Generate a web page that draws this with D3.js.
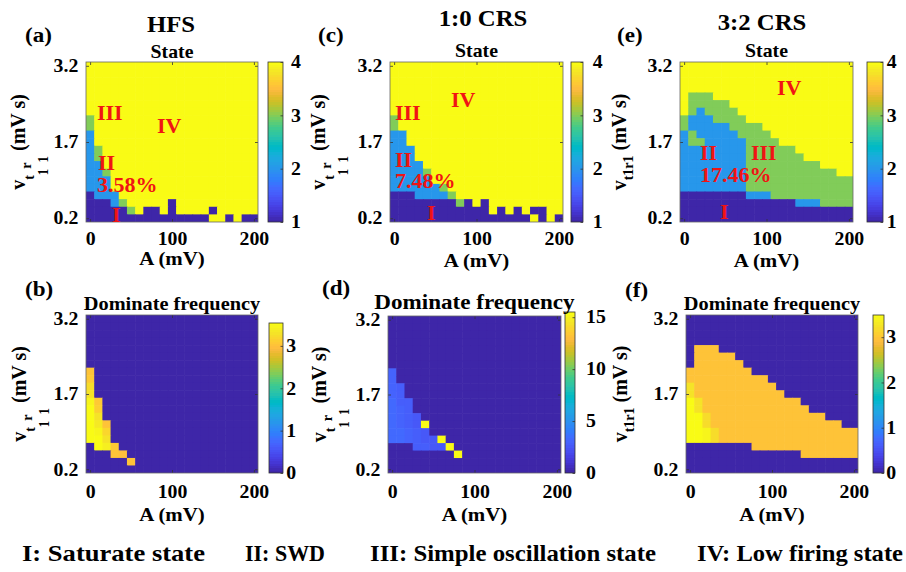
<!DOCTYPE html>
<html><head><meta charset="utf-8">
<script src="https://cdn.jsdelivr.net/npm/d3@7"></script>
<style>
body{margin:0;background:#fff}
svg{display:block}
text{font-family:"Liberation Serif","Times New Roman",serif;font-weight:bold;white-space:pre}
</style>
</head><body>
<svg id="chart" width="906" height="572"></svg>
<script>
// ---------------- DATA ----------------
const ampA = [0,10,20,30,40,50,60,70,80,90,100,110,120,130,140,150,160,170,180,190,200];
const velV = [0.2,0.35,0.5,0.65,0.8,0.95,1.1,1.25,1.4,1.55,1.7,1.85,2.0,2.15,2.3,2.45,2.6,2.75,2.9,3.05,3.2];
const xTicks = [0,100,200];
const yTicks = [0.2,1.7,3.2];
const stateTicks = [1,2,3,4];
const freqTicksHFS = [0,1,2,3];
const freqTicksCRS10 = [0,5,10,15];
const freqTicksCRS32 = [0,1,2,3];
const panelTitles = ["HFS","1:0 CRS","3:2 CRS"];
const legendItems = ["I: Saturate state","II: SWD","III: Simple oscillation state","IV: Low firing state"];

// state grids: rows from v=3.2 (top) down to v=0.2 (bottom); columns A=0..200
const stateHFS = [
"444444444444444444444",
"444444444444444444444",
"444444444444444444444",
"444444444444444444444",
"444444444444444444444",
"444444444444444444444",
"444444444444444444444",
"344444444444444444444",
"344444444444444444444",
"244444444444444444444",
"244444444444444444444",
"234444444444444444444",
"234444444444444444444",
"224444444444444444444",
"223444444444444444444",
"222444444444444444444",
"222444444444444444444",
"122244444444444444444",
"111234444414444444444",
"111113411414444144444",
"111111111111111441411"];
const stateCRS10 = [
"444444444444444444444",
"444444444444444444444",
"444444444444444444444",
"444444444444444444444",
"444444444444444444444",
"444444444444444444444",
"444444444444444444444",
"344444444444444444444",
"344444444444444444444",
"224444444444444444444",
"224444444444444444444",
"222444444444444444444",
"222444444444444444444",
"222244444444444444444",
"222234444444444444444",
"222224444444444444444",
"222222344444444444444",
"111222234444444444444",
"111111113141444444444",
"111111111111414141144",
"111111111111111114141"];
const stateCRS32 = [
"444444444444444444444",
"444444444444444444444",
"444444444444444444444",
"444444444444444444444",
"433344444444444444444",
"433333444444444444444",
"432333344444444444444",
"322233334444444444444",
"322222333344444444444",
"232222233334444444444",
"233222223333444444444",
"222222223333334444444",
"222222223333333444444",
"222222223333333334444",
"222222223333333333344",
"222222223333333333333",
"222222223333333333333",
"111111112223333333333",
"111111111111112223333",
"111111111111111111111",
"111111111111111111111"];

// dominant frequency grids (same orientation)
const freqHFS = [
[0,0,0,0,0,0,0,0,0,0,0,0,0,0,0,0,0,0,0,0,0],
[0,0,0,0,0,0,0,0,0,0,0,0,0,0,0,0,0,0,0,0,0],
[0,0,0,0,0,0,0,0,0,0,0,0,0,0,0,0,0,0,0,0,0],
[0,0,0,0,0,0,0,0,0,0,0,0,0,0,0,0,0,0,0,0,0],
[0,0,0,0,0,0,0,0,0,0,0,0,0,0,0,0,0,0,0,0,0],
[0,0,0,0,0,0,0,0,0,0,0,0,0,0,0,0,0,0,0,0,0],
[0,0,0,0,0,0,0,0,0,0,0,0,0,0,0,0,0,0,0,0,0],
[3.0,0,0,0,0,0,0,0,0,0,0,0,0,0,0,0,0,0,0,0,0],
[3.05,0,0,0,0,0,0,0,0,0,0,0,0,0,0,0,0,0,0,0,0],
[3.25,0,0,0,0,0,0,0,0,0,0,0,0,0,0,0,0,0,0,0,0],
[3.3,0,0,0,0,0,0,0,0,0,0,0,0,0,0,0,0,0,0,0,0],
[3.45,3.05,0,0,0,0,0,0,0,0,0,0,0,0,0,0,0,0,0,0,0],
[3.5,3.1,0,0,0,0,0,0,0,0,0,0,0,0,0,0,0,0,0,0,0],
[3.54,3.3,0,0,0,0,0,0,0,0,0,0,0,0,0,0,0,0,0,0,0],
[3.54,3.35,3.0,0,0,0,0,0,0,0,0,0,0,0,0,0,0,0,0,0,0],
[3.54,3.45,3.2,0,0,0,0,0,0,0,0,0,0,0,0,0,0,0,0,0,0],
[3.54,3.5,3.3,0,0,0,0,0,0,0,0,0,0,0,0,0,0,0,0,0,0],
[0,3.5,3.4,3.05,0,0,0,0,0,0,0,0,0,0,0,0,0,0,0,0,0],
[0,0,0,3.0,2.95,0,0,0,0,0,0,0,0,0,0,0,0,0,0,0,0],
[0,0,0,0,0,3.0,0,0,0,0,0,0,0,0,0,0,0,0,0,0,0],
[0,0,0,0,0,0,0,0,0,0,0,0,0,0,0,0,0,0,0,0,0]];
const freqCRS10 = [
[0,0,0,0,0,0,0,0,0,0,0,0,0,0,0,0,0,0,0,0,0],
[0,0,0,0,0,0,0,0,0,0,0,0,0,0,0,0,0,0,0,0,0],
[0,0,0,0,0,0,0,0,0,0,0,0,0,0,0,0,0,0,0,0,0],
[0,0,0,0,0,0,0,0,0,0,0,0,0,0,0,0,0,0,0,0,0],
[0,0,0,0,0,0,0,0,0,0,0,0,0,0,0,0,0,0,0,0,0],
[0,0,0,0,0,0,0,0,0,0,0,0,0,0,0,0,0,0,0,0,0],
[0,0,0,0,0,0,0,0,0,0,0,0,0,0,0,0,0,0,0,0,0],
[3.0,0,0,0,0,0,0,0,0,0,0,0,0,0,0,0,0,0,0,0,0],
[3.0,0,0,0,0,0,0,0,0,0,0,0,0,0,0,0,0,0,0,0,0],
[3.1,2.8,0,0,0,0,0,0,0,0,0,0,0,0,0,0,0,0,0,0,0],
[3.1,2.8,0,0,0,0,0,0,0,0,0,0,0,0,0,0,0,0,0,0,0],
[3.2,2.9,2.7,0,0,0,0,0,0,0,0,0,0,0,0,0,0,0,0,0,0],
[3.2,3.0,2.7,0,0,0,0,0,0,0,0,0,0,0,0,0,0,0,0,0,0],
[3.3,3.1,2.8,2.6,0,0,0,0,0,0,0,0,0,0,0,0,0,0,0,0,0],
[3.3,3.1,2.9,2.6,15.5,0,0,0,0,0,0,0,0,0,0,0,0,0,0,0,0],
[3.3,3.2,3.0,2.7,2.5,0,0,0,0,0,0,0,0,0,0,0,0,0,0,0,0],
[3.3,3.2,3.0,2.8,2.6,2.5,15.5,0,0,0,0,0,0,0,0,0,0,0,0,0,0],
[0,0,0,2.8,2.7,2.6,2.5,15.5,0,0,0,0,0,0,0,0,0,0,0,0,0],
[0,0,0,0,0,0,0,0,15.5,0,0,0,0,0,0,0,0,0,0,0,0],
[0,0,0,0,0,0,0,0,0,0,0,0,0,0,0,0,0,0,0,0,0],
[0,0,0,0,0,0,0,0,0,0,0,0,0,0,0,0,0,0,0,0,0]];
const freqCRS32 = [
[0,0,0,0,0,0,0,0,0,0,0,0,0,0,0,0,0,0,0,0,0],
[0,0,0,0,0,0,0,0,0,0,0,0,0,0,0,0,0,0,0,0,0],
[0,0,0,0,0,0,0,0,0,0,0,0,0,0,0,0,0,0,0,0,0],
[0,0,0,0,0,0,0,0,0,0,0,0,0,0,0,0,0,0,0,0,0],
[0,2.95,2.95,2.95,0,0,0,0,0,0,0,0,0,0,0,0,0,0,0,0,0],
[0,2.95,2.95,2.95,2.95,2.95,0,0,0,0,0,0,0,0,0,0,0,0,0,0,0],
[0,2.95,2.95,2.95,2.95,2.95,2.95,0,0,0,0,0,0,0,0,0,0,0,0,0,0],
[2.95,2.95,2.95,2.95,2.95,2.95,2.95,2.95,0,0,0,0,0,0,0,0,0,0,0,0,0],
[2.95,2.95,2.95,2.95,2.95,2.95,2.95,2.95,2.95,2.95,0,0,0,0,0,0,0,0,0,0,0],
[3.25,2.95,2.95,2.95,2.95,2.95,2.95,2.95,2.95,2.95,2.95,0,0,0,0,0,0,0,0,0,0],
[3.25,2.95,2.95,2.95,2.95,2.95,2.95,2.95,2.95,2.95,2.95,2.95,0,0,0,0,0,0,0,0,0],
[3.49,3.25,2.95,2.95,2.95,2.95,2.95,2.95,2.95,2.95,2.95,2.95,2.95,2.95,0,0,0,0,0,0,0],
[3.49,3.25,2.95,2.95,2.95,2.95,2.95,2.95,2.95,2.95,2.95,2.95,2.95,2.95,2.95,0,0,0,0,0,0],
[3.49,3.45,3.2,2.95,2.95,2.95,2.95,2.95,2.95,2.95,2.95,2.95,2.95,2.95,2.95,2.95,2.95,0,0,0,0],
[3.49,3.45,3.2,2.95,2.95,2.95,2.95,2.95,2.95,2.95,2.95,2.95,2.95,2.95,2.95,2.95,2.95,2.95,2.95,0,0],
[3.49,3.45,3.4,3.2,2.95,2.95,2.95,2.95,2.95,2.95,2.95,2.95,2.95,2.95,2.95,2.95,2.95,2.95,2.95,2.95,2.95],
[3.49,3.45,3.4,3.2,2.95,2.95,2.95,2.95,2.95,2.95,2.95,2.95,2.95,2.95,2.95,2.95,2.95,2.95,2.95,2.95,2.95],
[0,0,0,0,0,0,0,0,2.95,2.95,2.95,2.95,2.95,2.95,2.95,2.95,2.95,2.95,2.95,2.95,2.95],
[0,0,0,0,0,0,0,0,0,0,0,0,0,0,2.95,2.95,2.95,2.95,2.95,2.95,2.95],
[0,0,0,0,0,0,0,0,0,0,0,0,0,0,0,0,0,0,0,0,0],
[0,0,0,0,0,0,0,0,0,0,0,0,0,0,0,0,0,0,0,0,0]];

// colour limits of the colour bars
const climState = [1,4];
const climHFS = [0,3.54];
const climCRS10 = [0,15.5];
const climCRS32 = [0,3.49];

// in-plot region annotations
const labelsHFS = [["III",97,120],["IV",157,133],["II",98,170],["3.58%",97,192],["I",112,222]];
const labelsCRS10 = [["IV",451,107],["III",395,120],["II",395,167],["7.48%",395,188],["I",427,220]];
const labelsCRS32 = [["IV",777,95],["II",700,160],["III",751,160],["17.46%",700,182],["I",720,219]];

// MATLAB parula colormap (64)
const parula = [
[0.2422,0.1504,0.6603],[0.2504,0.1650,0.7076],[0.2578,0.1818,0.7511],[0.2647,0.1978,0.7952],[0.2706,0.2147,0.8364],[0.2751,0.2342,0.8710],[0.2783,0.2559,0.8991],[0.2803,0.2782,0.9221],[0.2813,0.3006,0.9414],[0.2810,0.3228,0.9579],
[0.2795,0.3447,0.9717],[0.2760,0.3667,0.9829],[0.2699,0.3892,0.9906],[0.2602,0.4123,0.9952],[0.2440,0.4358,0.9988],[0.2206,0.4603,0.9973],[0.1963,0.4847,0.9892],[0.1834,0.5074,0.9798],[0.1786,0.5289,0.9682],[0.1764,0.5499,0.9520],
[0.1687,0.5703,0.9359],[0.1540,0.5902,0.9218],[0.1460,0.6091,0.9079],[0.1380,0.6276,0.8973],[0.1248,0.6459,0.8883],[0.1113,0.6635,0.8763],[0.0952,0.6798,0.8598],[0.0689,0.6948,0.8394],[0.0297,0.7082,0.8163],[0.0036,0.7203,0.7917],
[0.0067,0.7312,0.7660],[0.0433,0.7411,0.7394],[0.0964,0.7500,0.7120],[0.1408,0.7584,0.6842],[0.1717,0.7670,0.6554],[0.1938,0.7758,0.6251],[0.2161,0.7843,0.5923],[0.2470,0.7918,0.5567],[0.2906,0.7973,0.5188],[0.3406,0.8008,0.4789],
[0.3909,0.8029,0.4354],[0.4456,0.8024,0.3909],[0.5044,0.7993,0.3480],[0.5616,0.7942,0.3045],[0.6174,0.7876,0.2612],[0.6720,0.7793,0.2227],[0.7242,0.7698,0.1910],[0.7738,0.7598,0.1646],[0.8203,0.7498,0.1535],[0.8634,0.7406,0.1596],
[0.9035,0.7330,0.1774],[0.9393,0.7288,0.2100],[0.9728,0.7298,0.2394],[0.9956,0.7434,0.2371],[0.9970,0.7659,0.2199],[0.9952,0.7893,0.2028],[0.9892,0.8136,0.1885],[0.9786,0.8386,0.1766],[0.9676,0.8639,0.1643],[0.9610,0.8890,0.1537],
[0.9597,0.9135,0.1423],[0.9628,0.9373,0.1265],[0.9691,0.9606,0.1064],[0.9769,0.9839,0.0805]];

// ---------------- DRAWING ----------------
const SX = 1.1; // horizontal text stretch of the figure
const svg = d3.select('#chart');
const defs = svg.append('defs');
const parulaHex = parula.map(c => d3.rgb(c[0]*255, c[1]*255, c[2]*255).formatHex());
function colorOf(v, lim){
  let i = Math.floor((v - lim[0]) / (lim[1] - lim[0]) * parula.length);
  i = Math.max(0, Math.min(parula.length - 1, i));
  return parulaHex[i];
}
function txt(g, x, y, s, size, anchor, fill){
  return g.append('text')
    .attr('transform', `translate(${x},${y}) scale(${SX},1)`)
    .attr('font-size', size).attr('text-anchor', anchor || 'start')
    .attr('fill', fill || '#000').text(s);
}

const panels = [
 {id:'a', grid: stateHFS.map(r => r.split('').map(Number)), lim: climState, ticks: stateTicks,
  L:86, R:258, T:62, B:222, cb:{L:268, R:283, T:62, B:222, pad:7.3},
  letter:'(a)', lx:25, ly:42, sub:'State', subY:57.5, subSize:18, xlabY:265, tickY:10,
  ylx:25, ysub:'double', head:[panelTitles[0],171,32], labels: labelsHFS},
 {id:'c', grid: stateCRS10.map(r => r.split('').map(Number)), lim: climState, ticks: stateTicks,
  L:390, R:563, T:62, B:222, cb:{L:571, R:583, T:62, B:222, pad:8.8},
  letter:'(c)', lx:318, ly:42, sub:'State', subY:57, subSize:18, xlabY:267, tickY:10,
  ylx:325, ysub:'double', head:[panelTitles[1],483,26], labels: labelsCRS10},
 {id:'e', grid: stateCRS32.map(r => r.split('').map(Number)), lim: climState, ticks: stateTicks,
  L:680, R:853, T:62, B:222, cb:{L:867, R:883, T:62, B:222, pad:3.4},
  letter:'(e)', lx:617, ly:42, sub:'State', subY:57, subSize:18, xlabY:267, tickY:10,
  ylx:626, ysub:'single', head:[panelTitles[2],762,30], labels: labelsCRS32},
 {id:'b', grid: freqHFS, lim: climHFS, ticks: freqTicksHFS,
  L:86, R:258, T:315, B:473, cb:{L:269, R:283, T:323, B:473, pad:3},
  letter:'(b)', lx:25, ly:296, sub:'Dominate frequency', subY:310, subSize:18.5, xlabY:521, tickY:12,
  ylx:26, ysub:'double'},
 {id:'d', grid: freqCRS10, lim: climCRS10, ticks: freqTicksCRS10,
  L:388, R:561, T:316, B:473, cb:{L:565, R:575, T:312, B:473, pad:10},
  letter:'(d)', lx:322, ly:295, sub:'Dominate frequency', subY:309, subSize:21, xlabY:521, tickY:12,
  ylx:326, ysub:'double'},
 {id:'f', grid: freqCRS32, lim: climCRS32, ticks: freqTicksCRS32,
  L:686, R:858, T:315, B:473, cb:{L:873, R:884, T:315, B:473, pad:2},
  letter:'(f)', lx:625, ly:297, sub:'Dominate frequency', subY:310, subSize:18.5, xlabY:521, tickY:12,
  ylx:627, ysub:'single'}
];

const step = ampA[1] - ampA[0];
const vstep = velV[1] - velV[0];

function styleAxis(g, size){
  g.attr('font-size', size).attr('font-family', null);
  g.select('.domain').remove();
  g.selectAll('.tick line').attr('stroke', '#333').attr('stroke-width', 0.8);
  g.selectAll('.tick text').attr('fill', '#000').attr('transform', `scale(${SX},1)`);
}

panels.forEach(p => {
  const g = svg.append('g');
  const x = d3.scaleLinear().domain([ampA[0] - step/2, ampA[ampA.length-1] + step/2]).range([p.L, p.R]);
  const y = d3.scaleLinear().domain([velV[0] - vstep/2, velV[velV.length-1] + vstep/2]).range([p.B, p.T]);

  defs.append('clipPath').attr('id', 'clip' + p.id)
    .append('rect').attr('x', p.L).attr('y', p.T).attr('width', p.R - p.L).attr('height', p.B - p.T);

  const cells = [];
  p.grid.forEach((row, k) => {
    const vi = velV.length - 1 - k;
    row.forEach((val, i) => cells.push({a: ampA[i], v: velV[vi], val}));
  });
  g.append('g').attr('clip-path', `url(#clip${p.id})`)
    .selectAll('rect').data(cells).join('rect')
    .attr('x', d => x(d.a - step/2))
    .attr('y', d => y(d.v + vstep/2))
    .attr('width', d => x(d.a + step/2) - x(d.a - step/2) + 0.6)
    .attr('height', d => y(d.v - vstep/2) - y(d.v + vstep/2) + 0.6)
    .attr('fill', d => colorOf(d.val, p.lim));

  // axes
  const gB = g.append('g').attr('transform', `translate(0,${p.B})`)
    .call(d3.axisBottom(x).tickValues(xTicks).tickFormat(d3.format('d')).tickSizeInner(-3).tickSizeOuter(0).tickPadding(p.tickY));
  styleAxis(gB, 18);
  const gL = g.append('g').attr('transform', `translate(${p.L},0)`)
    .call(d3.axisLeft(y).tickValues(yTicks).tickFormat(d3.format('.1f')).tickSizeInner(-3).tickSizeOuter(0).tickPadding(7));
  styleAxis(gL, 18);
  const gT = g.append('g').attr('transform', `translate(0,${p.T})`)
    .call(d3.axisTop(x).tickValues(xTicks).tickSizeInner(-3).tickSizeOuter(0).tickFormat(''));
  styleAxis(gT, 18);
  const gR = g.append('g').attr('transform', `translate(${p.R},0)`)
    .call(d3.axisRight(y).tickValues(yTicks).tickSizeInner(-3).tickSizeOuter(0).tickFormat(''));
  styleAxis(gR, 18);
  g.append('rect').attr('x', p.L).attr('y', p.T).attr('width', p.R - p.L).attr('height', p.B - p.T)
    .attr('fill', 'none').attr('stroke', '#666').attr('stroke-width', 0.8);

  // colour bar
  const cbY = d3.scaleLinear().domain(p.lim).range([p.cb.B, p.cb.T]);
  const grad = defs.append('linearGradient').attr('id', 'grad' + p.id)
    .attr('x1', 0).attr('y1', 1).attr('x2', 0).attr('y2', 0);
  parulaHex.forEach((c, i) => {
    grad.append('stop').attr('offset', i / parulaHex.length).attr('stop-color', c);
    grad.append('stop').attr('offset', (i + 1) / parulaHex.length).attr('stop-color', c);
  });
  g.append('rect').attr('x', p.cb.L).attr('y', p.cb.T).attr('width', p.cb.R - p.cb.L).attr('height', p.cb.B - p.cb.T)
    .attr('fill', `url(#grad${p.id})`).attr('stroke', '#333').attr('stroke-width', 0.8);
  const gC = g.append('g').attr('transform', `translate(${p.cb.R},0)`)
    .call(d3.axisRight(cbY).tickValues(p.ticks).tickFormat(d3.format('d')).tickSizeInner(-2.5).tickSizeOuter(0).tickPadding(p.cb.pad));
  styleAxis(gC, 18);

  // texts
  txt(svg, p.lx, p.ly, p.letter, 21);
  txt(svg, (p.L + p.R) / 2, p.subY, p.sub, p.subSize, 'middle');
  txt(svg, (p.L + p.R) / 2, p.xlabY, 'A (mV)', 19, 'middle');
  if (p.head) txt(svg, p.head[1], p.head[2], p.head[0], 22.5, 'middle');

  const yl = svg.append('text')
    .attr('transform', `translate(${p.ylx},${(p.T + p.B) / 2}) scale(${SX},1) rotate(-90)`)
    .attr('text-anchor', 'middle').attr('font-size', 20);
  yl.append('tspan').text('v');
  if (p.ysub === 'double') {
    yl.append('tspan').attr('dy', 8).attr('font-size', 14).text('t');
    yl.append('tspan').attr('dy', 13).attr('font-size', 13).text('1');
    yl.append('tspan').attr('dy', -16).attr('font-size', 14).text('r');
    yl.append('tspan').attr('dy', 16).attr('font-size', 13).text('1');
    yl.append('tspan').attr('dy', -21).attr('font-size', 20).text(' (mV s)');
  } else {
    yl.append('tspan').attr('dy', 6).attr('font-size', 14).text('t1r1');
    yl.append('tspan').attr('dy', -6).attr('font-size', 20).text(' (mV s)');
  }

  if (p.labels) p.labels.forEach(l => txt(svg, l[1], l[2], l[0], 20, 'start', '#f01414'));
});

// bottom legend
const legendX = [22, 245, 370, 697];
const legendW = [183, 80, 286, 206];
legendItems.forEach((s, i) => {
  svg.append('text').attr('x', legendX[i]).attr('y', 561).attr('font-size', 24)
    .attr('textLength', legendW[i]).attr('lengthAdjust', 'spacingAndGlyphs').text(s);
});
</script>
</body></html>
